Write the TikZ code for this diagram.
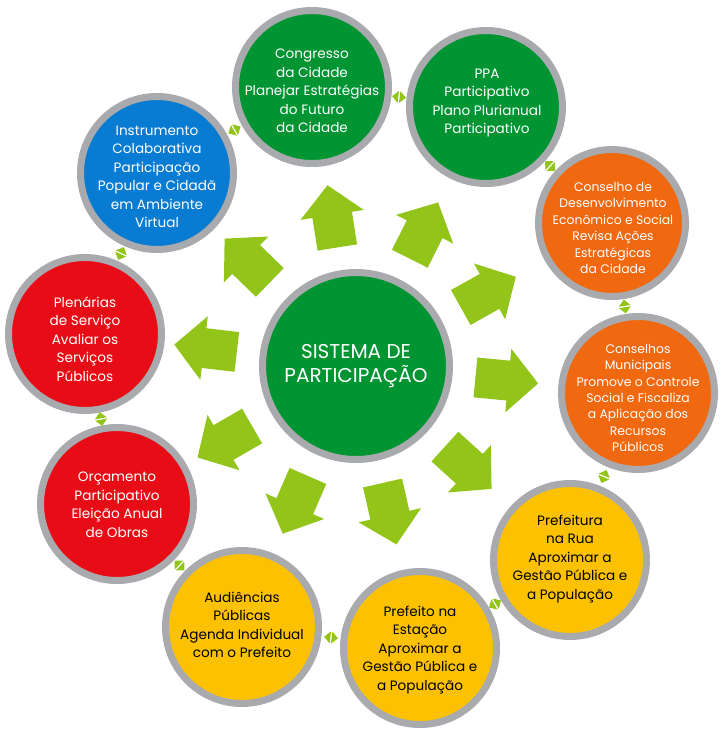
\documentclass[tikz,border=0pt]{standalone}
\usepackage{fontspec}
\setmainfont{Poppins}

\definecolor{anel}{RGB}{168,170,173}
\definecolor{verde}{RGB}{0,148,50}
\definecolor{azul}{RGB}{8,123,210}
\definecolor{vermelho}{RGB}{232,12,22}
\definecolor{laranja}{RGB}{240,104,16}
\definecolor{amarelo}{RGB}{252,193,0}
\definecolor{verdeseta}{RGB}{146,196,26}

\newcommand{\seta}[1]{
    \pgfmathanglebetweenpoints{\pgfpointanchor{S}{center}}{\pgfpointanchor{#1}{center}}
    \let\angulo\pgfmathresult
    \fill[verdeseta, shift={(S.center)}, rotate=\angulo] (120,-20) -- (153,-20) -- (153,-32) -- (183,0) -- (153,32) -- (153,20) -- (120,20) -- cycle;
}
\newcommand{\elo}[3]{
    \path (#1) -- (#2) coordinate[midway] (#3);
    \pgfmathanglebetweenpoints{\pgfpointanchor{#1}{center}}{\pgfpointanchor{#2}{center}}
    \let\anguloelo\pgfmathresult
    \fill[verdeseta, shift={(#3)}, rotate=\anguloelo] (0.7,-6) -- (7,0) -- (0.7,6) -- cycle (-0.7,-6) -- (-7,0) -- (-0.7,6) -- cycle;
}

\begin{document}
\begin{tikzpicture}[x=1pt, y=-1pt]
        \tikzstyle{circulo}=[circle,draw=anel,line width=7pt,minimum size=153pt,inner sep=0pt]
        \tikzstyle{texto}=[align=center,text=white,inner sep=0pt,font=\fontsize{13.6}{18.5}\selectfont]
        \tikzstyle{textop}=[texto,font=\fontsize{12.4}{16.4}\selectfont]

        \useasboundingbox (0,0) rectangle (725,737);

        \node[circulo,fill=verde,minimum size=187pt] (S) at (356,366) {};
        \node[circulo,fill=verde] (C_1) at (312,87) {};
        \node[circulo,fill=verde] (C_2) at (486,107) {};
        \node[circulo,fill=laranja,minimum size=147pt] (C_3) at (612,223) {};
        \node[circulo,fill=laranja] (C_4) at (638,393) {};
        \node[circulo,fill=amarelo] (C_5) at (570,560) {};
        \node[circulo,fill=amarelo] (C_6) at (420,648) {};
        \node[circulo,fill=amarelo] (C_7) at (242,627) {};
        \node[circulo,fill=vermelho] (C_8) at (117,504) {};
        \node[circulo,fill=vermelho] (C_9) at (85,334) {};
        \node[circulo,fill=azul] (C_10) at (157,173) {};

        \node[texto,font=\fontsize{20}{23.5}\selectfont] (T_0) at (356,366) {SISTEMA DE\\PARTICIPAÇÃO};
        \node[texto] (T_1) at (312,91) {Congresso\\da Cidade\\Planejar Estratégias\\do Futuro\\da Cidade};
        \node[texto] (T_2) at (487,103) {PPA\\Participativo\\Plano Plurianual\\Participativo};
        \node[textop] (T_3) at (613,228) {Conselho de\\Desenvolvimento\\Econômico e Social\\Revisa Ações\\Estratégicas\\da Cidade};
        \node[textop] (T_4) at (638,398) {Conselhos\\Municipais\\Promove o Controle\\Social e Fiscaliza\\a Aplicação dos\\Recursos\\Públicos};
        \node[texto,text=black] (T_5) at (570,559) {Prefeitura\\na Rua\\Aproximar a\\Gestão Pública e\\a População};
        \node[texto,text=black] (T_6) at (420,650) {Prefeito na\\Estação\\Aproximar a\\Gestão Pública e\\a População};
        \node[texto,text=black] (T_7) at (242,625) {Audiências\\Públicas\\Agenda Individual\\com o Prefeito};
        \node[texto] (T_8) at (117,505) {Orçamento\\Participativo\\Eleição Anual\\de Obras};
        \node[texto] (T_9) at (85,339) {Plenárias\\de Serviço\\Avaliar os\\Serviços\\Públicos};
        \node[texto] (T_10) at (157,177) {Instrumento\\Colaborativa\\Participação\\Popular e Cidadã\\em Ambiente\\Virtual};

        \seta{C_1} \seta{C_2} \seta{C_3} \seta{C_4} \seta{C_5}
        \seta{C_6} \seta{C_7} \seta{C_8} \seta{C_9} \seta{C_10}

        \elo{C_1}{C_2}{E_1} \elo{C_2}{C_3}{E_2} \elo{C_3}{C_4}{E_3} \elo{C_4}{C_5}{E_4} \elo{C_5}{C_6}{E_5}
        \elo{C_6}{C_7}{E_6} \elo{C_7}{C_8}{E_7} \elo{C_8}{C_9}{E_8} \elo{C_9}{C_10}{E_9} \elo{C_10}{C_1}{E_10}
    \end{tikzpicture}
\end{document}
